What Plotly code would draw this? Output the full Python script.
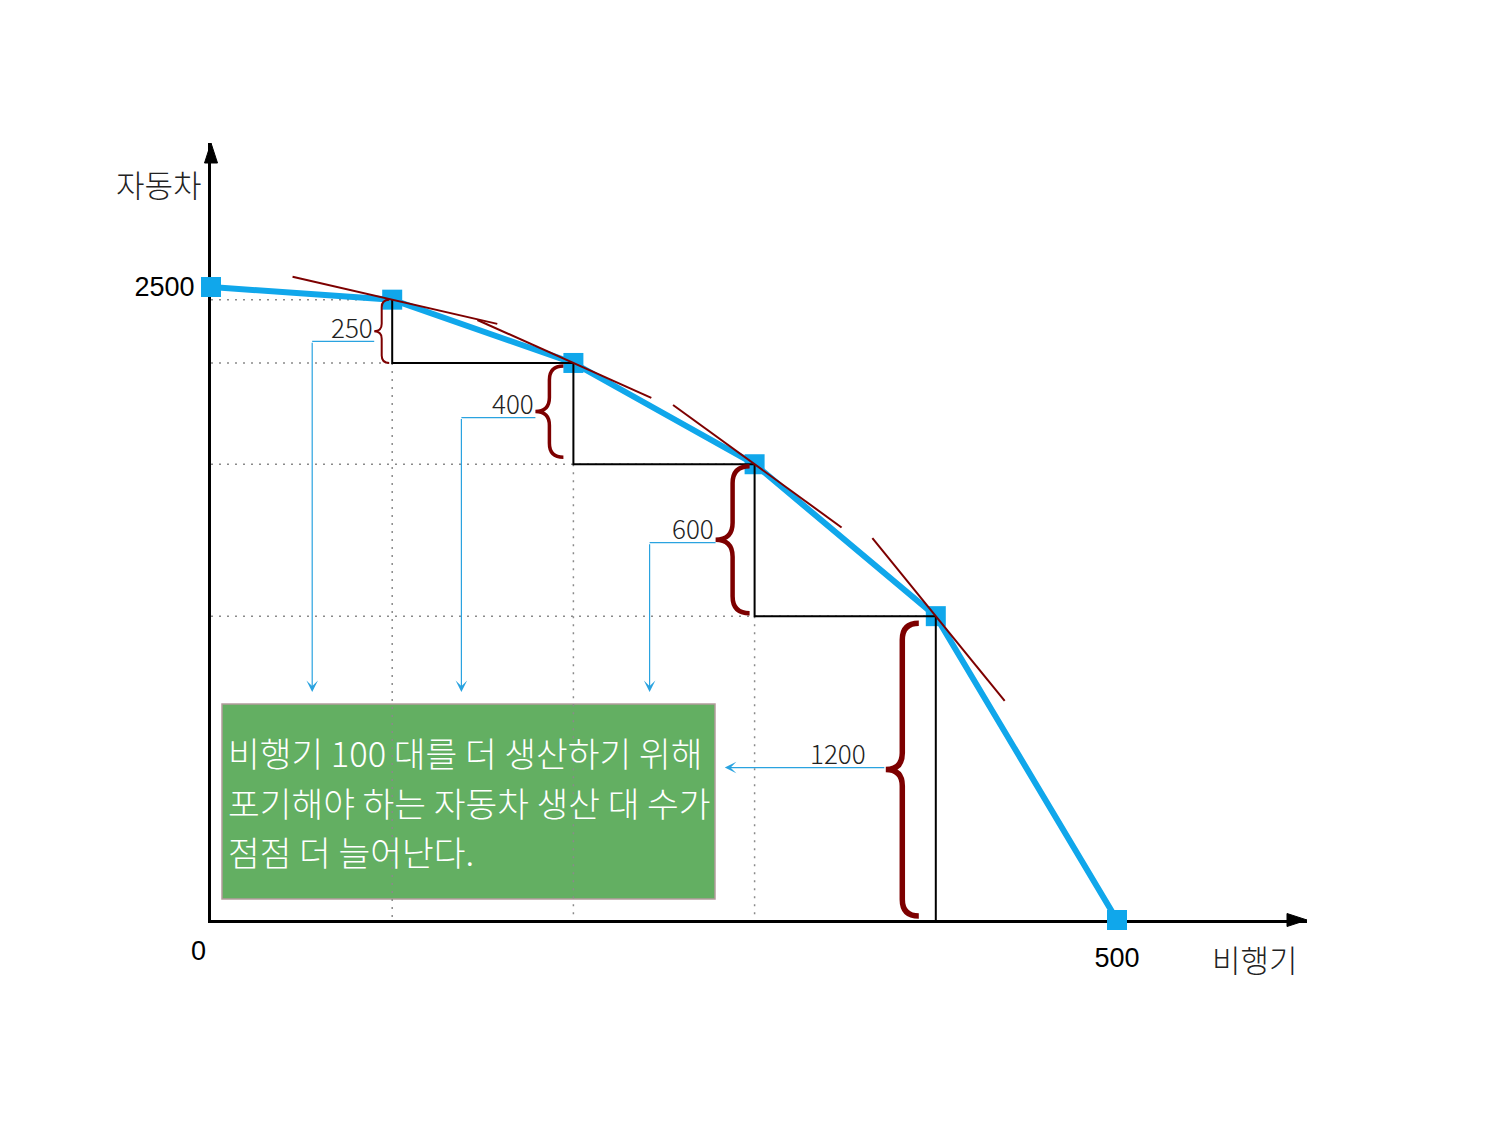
import plotly.graph_objects as go

# production possibilities: planes vs cars
planes = [0, 100, 200, 300, 400, 500]
cars = [2500, 2450, 2200, 1800, 1200, 0]

# cars given up for each extra 100 planes
giveup = [250, 400, 600, 1200]

# hand drawn tangents at the inner points
tan_slope = [-1.65, -3.2, -5.2, -8.8]
tan_from = [45, 147, 255, 365]
tan_to = [158, 243, 348, 438]

x_ticks = [500]
y_ticks = [2500]
x_title = '비행기'
y_title = '자동차'
note = ['비행기 100 대를 더 생산하기 위해',
        '포기해야 하는 자동차 생산 대 수가',
        '점점 더 늘어난다.']

BLUE = '#10A7EB'
LEAD = '#2AA3E0'
RED = '#7D0000'
KR = 'Noto Sans CJK KR, Noto Sans, sans-serif'
NUM = 'Liberation Sans, Arial, sans-serif'

# pixel frame of the plot area (page adds ~8px body margin)
OFF = 8
PL, PR, PT, PB = 211, 1307, 143, 920
SX = (1117 - PL) / 500
SY = (PB - 287) / 2500


def X(px):
    return (px - PL) / SX


def Y(py):
    return (PB - py) / SY


def P(px):
    return (px - PL) / (PR - PL)


def Q(py):
    return (PB - py) / (PB - PT)


def px_of(i):
    return PL + planes[i] * SX, PB - cars[i] * SY


fig = go.Figure()

# dotted guides
for i in range(1, 5):
    fig.add_trace(go.Scatter(x=[0, planes[i]], y=[cars[i], cars[i]], mode='lines',
                             line=dict(color='#8a8a8a', width=1.5, dash='2px,6px'),
                             hoverinfo='skip', showlegend=False))
for i in range(1, 4):
    fig.add_trace(go.Scatter(x=[planes[i], planes[i]], y=[cars[i + 1], 0], mode='lines',
                             line=dict(color='#8a8a8a', width=1.5, dash='2px,6px'),
                             hoverinfo='skip', showlegend=False))

# frontier
fig.add_trace(go.Scatter(x=planes, y=cars, mode='lines+markers',
                         line=dict(color=BLUE, width=6),
                         marker=dict(symbol='square', size=20, color=BLUE),
                         cliponaxis=False, showlegend=False))

# black steps
for i in range(1, 5):
    xs = [planes[i], planes[i]]
    ys = [cars[i], cars[i + 1]]
    if i < 4:
        xs.append(planes[i + 1])
        ys.append(cars[i + 1])
    fig.add_trace(go.Scatter(x=xs, y=ys, mode='lines',
                             line=dict(color='black', width=2),
                             hoverinfo='skip', showlegend=False))

# tangents
for i in range(4):
    x0, y0 = planes[i + 1], cars[i + 1]
    xs = [tan_from[i], tan_to[i]]
    ys = [y0 + tan_slope[i] * (v - x0) for v in xs]
    fig.add_trace(go.Scatter(x=xs, y=ys, mode='lines',
                             line=dict(color=RED, width=2),
                             hoverinfo='skip', showlegend=False))

# green note box
fig.add_shape(type='rect', x0=X(222), x1=X(715), y0=Y(899), y1=Y(704),
              fillcolor='#63AF62', line=dict(color='#B39C9C', width=1.5), layer='below')
for k, line in enumerate(note):
    fig.add_annotation(x=X(226), y=Y(752 + 49.5 * k), text=line, showarrow=False,
                       xanchor='left', yanchor='middle',
                       font=dict(family=KR, size=34.5, color='white', weight=300))

# braces, labels and leaders
tip_off = [-18, -38, -39, -50]
br_w = [15, 28, 34, 33]
br_lw = [2, 3.5, 4.5, 5.5]
br_pad = [(0, 0), (3, 7), (2, 3), (7, 4)]
lead_dy = [10, 6, 3, -2]
lead_len = [62, 74, 66, 161]
lab_off = [1, 1, 0, -18]

for i in range(4):
    lx, top = px_of(i + 1)
    _, bot = px_of(i + 2)
    top += br_pad[i][0]
    bot -= br_pad[i][1]
    tx = lx + tip_off[i]
    w = br_w[i]
    xm, xe, ym = tx + w / 2, tx + w, (top + bot) / 2
    r = min(w / 2, (bot - top) / 4)
    pts = [('M', xe, top), ('Q', xm, top), ('', xm, top + r), ('L', xm, ym - r),
           ('Q', xm, ym), ('', tx, ym), ('Q', xm, ym), ('', xm, ym + r),
           ('L', xm, bot - r), ('Q', xm, bot), ('', xe, bot)]
    path = ' '.join(f'{c}{X(a):.3f},{Y(b):.3f}' for c, a, b in pts)
    fig.add_shape(type='path', path=path, line=dict(color=RED, width=br_lw[i]))

    ly = ym + lead_dy[i]
    fig.add_annotation(x=X(tx + lab_off[i]), y=Y(ly - 15), text=str(giveup[i]),
                       showarrow=False, xanchor='right', yanchor='middle',
                       font=dict(family=KR, size=26, color='#222', weight=300))
    end = tx - lead_len[i]
    if i < 3:
        fig.add_shape(type='line', x0=X(tx), x1=X(end), y0=Y(ly), y1=Y(ly),
                      line=dict(color=LEAD, width=1.2))
        fig.add_annotation(x=X(end), y=Y(692), ax=X(end), ay=Y(ly),
                           xref='x', yref='y', axref='x', ayref='y', text='',
                           showarrow=True, arrowhead=3, arrowsize=1.6,
                           arrowwidth=1.2, arrowcolor=LEAD)
    else:
        fig.add_annotation(x=X(end), y=Y(ly), ax=X(tx), ay=Y(ly),
                           xref='x', yref='y', axref='x', ayref='y', text='',
                           showarrow=True, arrowhead=3, arrowsize=1.6,
                           arrowwidth=1.2, arrowcolor=LEAD)

# axis arrowheads (paper refs so they are not clipped)
fig.add_shape(type='path', xref='paper', yref='paper',
              path=f'M{P(PL)},{Q(PT)} L{P(PL - 6.5)},{Q(PT + 20)} L{P(PL + 6.5)},{Q(PT + 20)} Z',
              fillcolor='black', line=dict(color='black', width=1))
fig.add_shape(type='path', xref='paper', yref='paper',
              path=f'M{P(PR)},{Q(PB)} L{P(PR - 20)},{Q(PB - 6.5)} L{P(PR - 20)},{Q(PB + 6.5)} Z',
              fillcolor='black', line=dict(color='black', width=1))

# axis titles and origin
fig.add_annotation(x=P(159), y=Q(183), xref='paper', yref='paper', text=y_title,
                   xanchor='center', yanchor='middle', showarrow=False,
                   font=dict(family=KR, size=31, color='#222', weight=300))
fig.add_annotation(x=P(1255), y=Q(958), xref='paper', yref='paper', text=x_title,
                   xanchor='center', yanchor='middle', showarrow=False,
                   font=dict(family=KR, size=31, color='#222', weight=300))
fig.add_annotation(x=P(198), y=Q(951), xref='paper', yref='paper', text='0',
                   xanchor='center', yanchor='middle', showarrow=False,
                   font=dict(family=NUM, size=27, color='black'))

fig.update_layout(
    width=1500, height=1125,
    margin=dict(l=PL - OFF, r=1500 - PR + OFF, t=PT - OFF, b=1125 - PB + OFF),
    plot_bgcolor='white', paper_bgcolor='white',
    xaxis=dict(range=[0, X(PR)], showgrid=False, zeroline=False,
               showline=True, linecolor='black', linewidth=3, layer='below traces',
               tickvals=x_ticks, ticktext=[str(v) for v in x_ticks], ticks='',
               ticklabelstandoff=12, tickfont=dict(family=NUM, size=27, color='black')),
    yaxis=dict(range=[0, Y(PT)], showgrid=False, zeroline=False,
               showline=True, linecolor='black', linewidth=3, layer='below traces',
               tickvals=y_ticks, ticktext=[str(v) for v in y_ticks], ticks='',
               ticklabelstandoff=8, tickfont=dict(family=NUM, size=27, color='black')),
)

fig.write_html('out.html')
